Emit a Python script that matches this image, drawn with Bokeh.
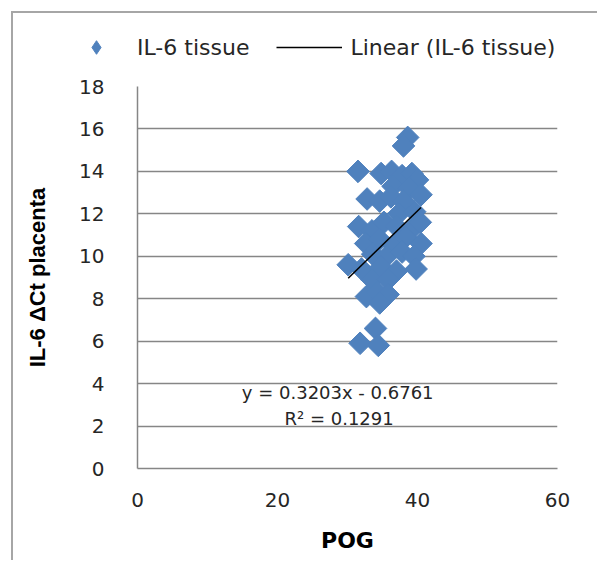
from bokeh.plotting import figure
from bokeh.layouts import column
from bokeh.models import Range1d, FixedTicker, Legend, LegendItem, Label
from bokeh.embed import file_html
from bokeh.resources import INLINE

# ---- data ----
pog = [38.6, 38.0, 31.5, 34.8, 36.3, 37.8, 39.2, 40.0, 36.5, 38.8,
       32.8, 34.6, 36.2, 38.0, 40.5, 37.3, 39.6, 31.6, 33.5, 35.2,
       37.0, 39.2, 40.4, 32.6, 34.6, 36.6, 38.3, 40.5, 33.6, 35.6,
       37.8, 39.5, 30.1, 32.0, 34.8, 37.0, 39.8, 33.5, 35.8, 32.7,
       34.3, 35.8, 34.6, 34.0, 31.8, 34.4]
il6 = [15.6, 15.2, 14.0, 13.9, 14.0, 13.8, 13.9, 13.6, 13.3, 13.2,
       12.7, 12.6, 12.8, 12.6, 12.9, 12.0, 12.1, 11.4, 11.2, 11.6,
       11.4, 11.3, 11.6, 10.6, 10.8, 10.5, 10.9, 10.6, 10.1, 10.0,
       10.2, 10.0, 9.6, 9.4, 9.5, 9.3, 9.4, 8.9, 8.9, 8.1,
       8.3, 8.2, 7.8, 6.6, 5.9, 5.8]
slope = 0.3203
intercept = -0.6761
r_squared = 0.1291
x_ticks = [0, 20, 40, 60]
y_ticks = [0, 2, 4, 6, 8, 10, 12, 14, 16, 18]
series_label = "IL-6 tissue"
trend_label = "Linear (IL-6 tissue)"
x_title = "POG"
y_title = "IL-6 \u0394Ct placenta"

blue = "#4F81BD"
grid_gray = "#868686"
text_col = "#262626"
W = 584

# ---------------- main chart ----------------
p = figure(width=W, height=487, output_backend="svg", toolbar_location=None,
           x_range=Range1d(0, 60), y_range=Range1d(0, 18),
           min_border_left=124, min_border_right=40,
           min_border_top=13, min_border_bottom=92)
p.outline_line_color = None
p.background_fill_color = "white"
p.border_fill_color = "white"

sr = p.scatter(pog, il6, marker="square", angle=0.785398, size=16,
               fill_color=blue, line_color=blue, line_width=1)

x0, x1 = min(pog), max(pog)
lr = p.line([x0, x1], [slope * x0 + intercept, slope * x1 + intercept],
            line_color="black", line_width=1.5)

for ax in (p.xaxis[0], p.yaxis[0]):
    ax.axis_line_color = grid_gray
    ax.axis_line_width = 1.5
    ax.major_tick_line_color = None
    ax.minor_tick_line_color = None
    ax.major_tick_out = 0
    ax.major_tick_in = 0
    ax.major_label_text_font = "DejaVu Sans"
    ax.major_label_text_font_size = "20px"
    ax.major_label_text_color = text_col

p.xaxis.ticker = FixedTicker(ticks=x_ticks)
p.yaxis.ticker = FixedTicker(ticks=y_ticks)
p.xaxis.major_label_standoff = 24
p.yaxis.major_label_standoff = 33

p.xaxis.axis_label = x_title
p.xaxis.axis_label_text_font = "DejaVu Sans"
p.xaxis.axis_label_text_font_style = "bold"
p.xaxis.axis_label_text_font_size = "22px"
p.xaxis.axis_label_text_color = "black"
p.xaxis.axis_label_standoff = 18

p.yaxis.axis_label = y_title
p.yaxis.axis_label_text_font = "Liberation Sans"
p.yaxis.axis_label_text_font_style = "bold"
p.yaxis.axis_label_text_font_size = "22px"
p.yaxis.axis_label_text_color = "black"
p.yaxis.axis_label_standoff = 26

p.xgrid.visible = False
p.ygrid.grid_line_color = grid_gray
p.ygrid.grid_line_width = 1.5

eq1 = Label(x=28.6, y=3.58, text=f"y = {slope}x - {abs(intercept)}",
            text_align="center", text_baseline="middle",
            text_font="DejaVu Sans", text_font_size="18px", text_color=text_col)
eq2 = Label(x=28.8, y=2.36, text=f"R\u00b2 = {r_squared}",
            text_align="center", text_baseline="middle",
            text_font="DejaVu Sans", text_font_size="18px", text_color=text_col)
p.add_layout(eq1)
p.add_layout(eq2)

# ---------------- legend strip above ----------------
lg = figure(width=W, height=60, output_backend="svg", toolbar_location=None,
            x_range=Range1d(0, 1), y_range=Range1d(0, 1),
            x_axis_type=None, y_axis_type=None, min_border=0)
if "frame_align" in lg.properties():
    lg.frame_align = False
lg.outline_line_color = None
lg.grid.visible = False
lg.background_fill_color = "white"
lg.border_fill_color = "white"
# legend key proxies: same styling as the chart's renderers, placed off this strip's view
key_pts = lg.scatter(pog[:1], il6[:1], marker="diamond", size=15,
                     fill_color=blue, line_color=blue, line_width=1)
key_line = lg.line(pog[:2], il6[:2], line_color="black", line_width=1.5)

legend = Legend(items=[LegendItem(label=series_label, renderers=[key_pts]),
                       LegendItem(label=trend_label, renderers=[key_line])],
                orientation="horizontal", location=(50, 9),
                glyph_width=66, glyph_height=34, label_height=24,
                label_standoff=8, spacing=27, padding=0, margin=0,
                border_line_color=None, background_fill_alpha=0,
                label_text_font="DejaVu Sans", label_text_font_size="22px",
                label_text_color=text_col)
lg.add_layout(legend, "center")

page = column(lg, p, spacing=0)
page.margin = (11, 0, 0, 11)
page.styles = {"border-top": "2px solid #a6a6a6", "border-left": "2px solid #a6a6a6"}

open("out.html", "w").write(file_html(page, INLINE))
